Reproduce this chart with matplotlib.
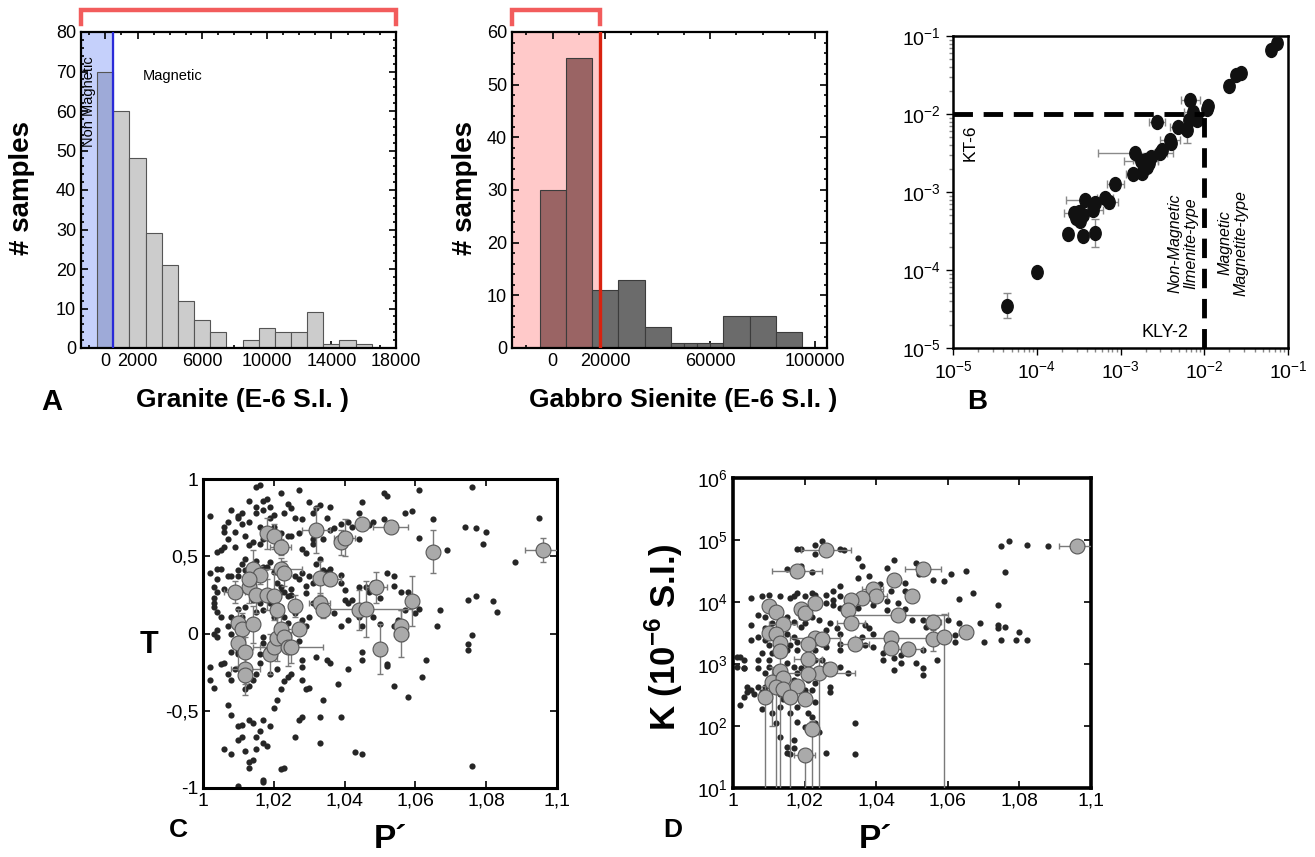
import numpy as np
import matplotlib
matplotlib.use('Agg')
import matplotlib.pyplot as plt
from matplotlib.ticker import MultipleLocator, FixedLocator, LogLocator, NullFormatter
from matplotlib.path import Path
from matplotlib.transforms import Affine2D

plt.rcParams['font.family'] = ['Liberation Sans', 'DejaVu Sans']
plt.rcParams['mathtext.fontset'] = 'custom'
plt.rcParams['mathtext.rm'] = 'Liberation Sans'
plt.rcParams['mathtext.bf'] = 'Liberation Sans:bold'

# ---------------- datos ----------------
# Histograma granito (centros de clase, ancho 1000)
granite_centers = list(range(0, 17000, 1000))
granite_counts = [70, 60, 48, 29, 21, 12, 7, 4, 0, 2, 5, 4, 4, 9, 1, 2, 1]
granite_limit = 500          # limite no magnetico
granite_range = (-1500, 18000)

# Histograma gabro-sienita (bordes de clase)
gabbro_edges = [-5000, 5000, 15000, 25000, 35000, 45000, 50000, 55000, 60000,
                65000, 75000, 85000, 95000]
gabbro_counts = [30, 55, 11, 13, 4, 1, 1, 1, 1, 6, 6, 3]
gabbro_limit = 18000
gabbro_range = (-15500, 18000)

# Panel B: KLY-2 vs KT-6
b_x = [4.4e-5, 1.0e-4, 2.34e-4, 3.55e-4, 4.9e-4, 2.75e-4, 3.3e-4, 2.95e-4, 3.2e-4,
       3.8e-4, 3.55e-4, 4.7e-4, 5.0e-4, 6.5e-4, 7.2e-4, 8.7e-4, 1.41e-3, 1.51e-3,
       1.82e-3, 2.0e-3, 2.19e-3, 1.9e-3, 2.3e-3, 2.1e-3, 1.74e-3, 2.75e-3, 3.0e-3,
       3.1e-3, 3.9e-3, 4.0e-3, 4.9e-3, 6.2e-3, 6.5e-3, 6.8e-3, 7.4e-3, 7.6e-3,
       8.1e-3, 1.07e-2, 1.12e-2, 2.0e-2, 2.4e-2, 2.75e-2, 6.3e-2, 7.4e-2]
b_y = [3.5e-5, 9.3e-5, 2.9e-4, 2.7e-4, 3.0e-4, 5.4e-4, 4.2e-4, 4.6e-4, 5.6e-4,
       7.9e-4, 5.0e-4, 5.9e-4, 7.2e-4, 8.5e-4, 7.4e-4, 1.26e-3, 1.7e-3, 3.16e-3,
       1.74e-3, 2.57e-3, 2.34e-3, 2.24e-3, 2.8e-3, 2.1e-3, 2.5e-3, 7.8e-3, 3.16e-3,
       3.5e-3, 4.7e-3, 4.2e-3, 6.9e-3, 6.3e-3, 8.3e-3, 1.51e-2, 1.05e-2, 9.3e-3,
       8.5e-3, 1.17e-2, 1.26e-2, 2.3e-2, 3.16e-2, 3.4e-2, 6.6e-2, 8.1e-2]
# factores de error (1 = sin barra)
b_xf = [1, 1, 1.15, 1, 1, 1.3, 1, 1, 1, 1.7, 1, 1.3, 1, 1.25, 1.3, 1.25, 1.2, 2.8,
        1, 1.4, 1, 1, 1, 1, 1.6, 1.25, 1.2, 1, 1.3, 1, 1.25, 1, 1, 1.3, 1.3, 1,
        1, 1.1, 1, 1, 1, 1, 1, 1]
b_yf = [1.45, 1, 1, 1, 1.5, 1, 1, 1, 1, 1, 1, 1, 1, 1, 1.2, 1, 1, 1, 1, 1, 1, 1, 1,
        1, 1, 1, 1, 1, 1, 1, 1, 1.5, 1, 1, 1, 1, 1, 1, 1, 1, 1, 1, 1, 1]
b_limit = 1e-2

# Panel C: T vs P' (especimenes)
c_dot_p = [1.002, 1.015, 1.016, 1.013, 1.011, 1.008, 1.010, 1.006, 1.007, 1.007, 1.009,
           1.013, 1.015, 1.015, 1.016, 1.017, 1.017, 1.018, 1.019, 1.019, 1.020, 1.022,
           1.023, 1.024, 1.025, 1.026, 1.027, 1.028, 1.030, 1.031, 1.032, 1.033, 1.035,
           1.036, 1.036, 1.037, 1.038, 1.039, 1.041, 1.042, 1.044, 1.045, 1.044, 1.047,
           1.048, 1.051, 1.052, 1.051, 1.054, 1.057, 1.059, 1.061, 1.061, 1.065, 1.069,
           1.076, 1.074, 1.077, 1.080, 1.079, 1.095, 1.088, 1.034, 1.033, 1.031, 1.031,
           1.027, 1.028, 1.029, 1.025, 1.024, 1.022, 1.020, 1.017, 1.016, 1.014, 1.013,
           1.012, 1.011, 1.010, 1.009, 1.006, 1.005, 1.004, 1.006,
           1.002, 1.004, 1.005, 1.004, 1.003, 1.004, 1.003, 1.003, 1.003, 1.004, 1.005,
           1.006, 1.007, 1.008, 1.010, 1.010, 1.011, 1.012, 1.012, 1.013, 1.014, 1.015,
           1.015, 1.016, 1.017, 1.018, 1.019, 1.020, 1.021, 1.022, 1.022, 1.023, 1.024,
           1.025, 1.025, 1.026, 1.027, 1.028, 1.029, 1.029, 1.030, 1.031, 1.032, 1.033,
           1.034, 1.035, 1.036, 1.039, 1.039, 1.040, 1.040, 1.041, 1.042, 1.044, 1.046,
           1.047, 1.048, 1.049, 1.050, 1.050, 1.052, 1.054, 1.054, 1.056, 1.057, 1.058,
           1.060, 1.061, 1.066, 1.067, 1.075, 1.077, 1.082, 1.083, 1.076, 1.075, 1.075,
           1.008, 1.004, 1.003, 1.007, 1.008, 1.010, 1.011, 1.012, 1.014, 1.015, 1.016,
           1.017, 1.019, 1.020, 1.022, 1.023, 1.024, 1.026, 1.027, 1.028, 1.029, 1.030,
           1.031, 1.033, 1.037, 1.039, 1.041, 1.044, 1.045, 1.048, 1.050, 1.054, 1.055,
           1.002, 1.002, 1.003, 1.004, 1.005, 1.006, 1.007, 1.008, 1.008, 1.009, 1.010,
           1.010, 1.011, 1.012, 1.012, 1.013, 1.014, 1.015, 1.016, 1.016, 1.017, 1.017,
           1.018, 1.019, 1.019, 1.021, 1.022, 1.023, 1.024, 1.025, 1.025, 1.027, 1.028,
           1.028, 1.028, 1.029, 1.030, 1.032, 1.034, 1.035, 1.036, 1.038, 1.039, 1.041,
           1.045, 1.045, 1.052, 1.052, 1.054, 1.058, 1.076, 1.062, 1.063, 1.026, 1.027,
           1.028, 1.007, 1.008, 1.010, 1.011, 1.013, 1.014, 1.010, 1.011, 1.012, 1.013,
           1.013, 1.014, 1.015, 1.015, 1.016, 1.017, 1.017, 1.018, 1.019, 1.020, 1.021,
           1.022, 1.023, 1.017, 1.017, 1.010, 1.033, 1.033, 1.043, 1.045, 1.006, 1.008]
c_dot_t = [0.76, 0.95, 0.96, 0.86, 0.78, 0.80, 0.75, 0.66, 0.72, 0.61, 0.56,
           0.72, 0.78, 0.82, 0.69, 0.86, 0.80, 0.87, 0.82, 0.75, 0.77, 0.91,
           0.78, 0.84, 0.81, 0.75, 0.93, 0.74, 0.85, 0.78, 0.81, 0.83, 0.75,
           0.82, 0.67, 0.68, 0.59, 0.71, 0.72, 0.69, 0.61, 0.85, 0.78, 0.70,
           0.72, 0.91, 0.89, 0.74, 0.71, 0.78, 0.79, 0.93, 0.62, 0.74, 0.54,
           0.95, 0.69, 0.68, 0.66, 0.58, 0.75, 0.46, 0.61, 0.68, 0.61, 0.58,
           0.65, 0.55, 0.52, 0.63, 0.63, 0.65, 0.69, 0.61, 0.58, 0.59, 0.57,
           0.63, 0.71, 0.76, 0.66, 0.69, 0.54, 0.53, 0.56,
           0.39, 0.42, 0.42, 0.35, 0.30, 0.27, 0.23, 0.20, 0.17, 0.14, 0.11,
           0.29, 0.37, 0.37, 0.37, 0.41, 0.45, 0.48, 0.41, 0.38, 0.45, 0.41,
           0.47, 0.37, 0.43, 0.43, 0.46, 0.40, 0.33, 0.30, 0.27, 0.27, 0.24,
           0.25, 0.29, 0.37, 0.35, 0.39, 0.31, 0.26, 0.37, 0.33, 0.45, 0.48,
           0.41, 0.40, 0.42, 0.38, 0.33, 0.22, 0.28, 0.20, 0.22, 0.30, 0.30,
           0.27, 0.33, 0.27, 0.30, 0.23, 0.39, 0.37, 0.31, 0.27, 0.15, 0.27,
           0.13, 0.16, 0.05, 0.15, 0.22, 0.24, 0.21, 0.14, -0.01, -0.07, -0.11,
           0.00, 0.02, 0.00, 0.05, 0.11, 0.16, 0.11, 0.17, 0.22, 0.14, 0.20,
           0.15, 0.20, 0.11, 0.17, 0.11, 0.07, 0.13, 0.17, 0.09, 0.05, 0.11,
           0.20, 0.20, 0.13, 0.05, 0.09, 0.11, 0.05, 0.11, 0.06, 0.05, 0.09,
           -0.22, -0.30, -0.35, -0.02, -0.20, -0.19, -0.26, -0.30, -0.12, -0.23, -0.13,
           -0.12, -0.26, -0.30, -0.36, -0.34, -0.30, -0.26, -0.19, -0.13, -0.06, -0.02,
           -0.11, -0.15, -0.26, -0.23, -0.36, -0.31, -0.28, -0.11, -0.26, -0.05, -0.17,
           -0.22, -0.30, -0.36, -0.35, -0.15, -0.43, -0.17, -0.19, -0.33, -0.54, -0.23,
           -0.17, -0.12, -0.21, -0.20, -0.34, -0.41, -0.86, -0.28, -0.17, -0.67, -0.56,
           -0.54, -0.46, -0.53, -0.60, -0.59, -0.56, -0.58, -0.69, -0.67, -0.76, -0.83,
           -0.87, -0.82, -0.75, -0.67, -0.63, -0.56, -0.71, -0.73, -0.60, -0.48, -0.43,
           -0.88, -0.87, -0.95, -0.96, -0.99, -0.54, -0.71, -0.77, -0.78, -0.75, -0.78]

# Panel C: medias por sitio
c_site_p = [1.018, 1.020, 1.022, 1.014, 1.013, 1.016, 1.013, 1.022, 1.023, 1.009,
            1.010, 1.011, 1.014, 1.015, 1.018, 1.020, 1.021, 1.026, 1.027, 1.010,
            1.012, 1.012, 1.012, 1.019, 1.020, 1.021, 1.022, 1.023, 1.024, 1.025,
            1.032, 1.033, 1.033, 1.034, 1.036, 1.039, 1.040, 1.045, 1.053, 1.049,
            1.044, 1.046, 1.050, 1.056, 1.056, 1.059, 1.065, 1.096]
c_site_t = [0.65, 0.63, 0.56, 0.42, 0.30, 0.38, 0.35, 0.42, 0.39, 0.27,
            0.07, 0.03, 0.06, 0.25, 0.25, 0.24, 0.15, 0.18, 0.03, -0.06,
            -0.12, -0.23, -0.27, -0.13, -0.09, -0.03, 0.03, -0.02, -0.09, -0.09,
            0.67, 0.36, 0.20, 0.15, 0.35, 0.59, 0.62, 0.71, 0.69, 0.30,
            0.15, 0.16, -0.10, 0.05, 0.00, 0.21, 0.53, 0.54]
c_site_perr = [0, 0, 0.003, 0, 0, 0, 0, 0.006, 0, 0.003,
               0, 0, 0, 0, 0.004, 0, 0, 0, 0, 0,
               0, 0.004, 0, 0, 0.004, 0, 0, 0, 0.010, 0,
               0.004, 0, 0.003, 0, 0.003, 0, 0.003, 0, 0.005, 0.003,
               0, 0.013, 0, 0, 0.002, 0, 0, 0.005]
c_site_terr = [0.10, 0.08, 0.05, 0.12, 0.10, 0.06, 0, 0.07, 0.08, 0.07,
               0.09, 0.10, 0.12, 0.12, 0.10, 0.15, 0.10, 0.07, 0, 0.15,
               0.10, 0.10, 0.13, 0.13, 0, 0.15, 0.10, 0.07, 0.12, 0.10,
               0.15, 0.11, 0.06, 0.05, 0, 0.08, 0.12, 0.04, 0, 0.10,
               0.13, 0.18, 0.16, 0.10, 0.15, 0.16, 0.14, 0.08]

# Panel D: K vs P' (especimenes)
d_dot_p = [1.025, 1.023, 1.018, 1.019, 1.023, 1.030, 1.031, 1.027, 1.015, 1.019, 1.022,
           1.035, 1.036, 1.045, 1.051, 1.052, 1.075, 1.077, 1.082, 1.088, 1.076, 1.065,
           1.061, 1.059, 1.056, 1.043, 1.041, 1.035, 1.038, 1.048, 1.048, 1.044, 1.067,
           1.063, 1.030, 1.028,
           1.005, 1.008, 1.010, 1.013, 1.016, 1.017, 1.018, 1.020, 1.022, 1.023, 1.026,
           1.028, 1.030, 1.026, 1.028, 1.030, 1.032, 1.035, 1.037, 1.039, 1.043, 1.043,
           1.046, 1.048, 1.050, 1.053, 1.054, 1.060, 1.063, 1.069, 1.074, 1.074, 1.076,
           1.074, 1.080, 1.075, 1.082, 1.079, 1.070, 1.062, 1.062, 1.057, 1.053, 1.053,
           1.053, 1.051, 1.047, 1.047, 1.045, 1.045, 1.042, 1.042, 1.039, 1.037, 1.039,
           1.038, 1.037, 1.036, 1.030, 1.030, 1.030, 1.029, 1.027, 1.026, 1.024, 1.022,
           1.020, 1.019, 1.017, 1.015, 1.013, 1.011, 1.009, 1.007, 1.005, 1.005, 1.007,
           1.009, 1.009, 1.015, 1.017, 1.018, 1.019, 1.025, 1.026, 1.023, 1.018, 1.015,
           1.016, 1.010, 1.008, 1.011, 1.010,
           1.002, 1.003, 1.003, 1.007, 1.007, 1.009, 1.010, 1.015, 1.017, 1.018, 1.019,
           1.020, 1.023, 1.025, 1.026, 1.030, 1.032, 1.027, 1.027, 1.023, 1.022, 1.021,
           1.020, 1.017, 1.016, 1.014, 1.013, 1.011, 1.009, 1.008, 1.007, 1.005, 1.004,
           1.004, 1.006, 1.003, 1.002, 1.001, 1.001, 1.003, 1.008, 1.011, 1.013, 1.016,
           1.018, 1.021, 1.023, 1.013, 1.015, 1.015, 1.017, 1.017, 1.016, 1.024, 1.026,
           1.034, 1.034, 1.022, 1.023, 1.018, 1.020, 1.012]
d_dot_k = [98000, 83000, 71000, 71000, 60000, 71000, 69000, 69000, 34000, 38000, 30000,
           51000, 38000, 47000, 42000, 28000, 79000, 98000, 83000, 79000, 30000, 32000,
           28000, 22000, 23000, 35000, 19500, 24000, 26000, 20000, 15000, 15000, 14000,
           11000, 18000, 15000,
           11500, 12300, 12900, 12600, 11500, 12600, 13800, 12300, 13800, 12900, 12900,
           10700, 12300, 9500, 8900, 7900, 8500, 7900, 10700, 8900, 10200, 7400,
           9500, 7600, 5100, 5100, 4000, 5100, 4600, 4600, 8900, 4300, 4000,
           3800, 3300, 2450, 2450, 2450, 2300, 2950, 2300, 1150, 1700, 850,
           660, 1020, 1380, 1020, 790, 1230, 1150, 1480, 1900, 2040, 3100,
           3800, 4300, 2750, 3100, 2140, 1700, 3800, 4600, 3550, 5100, 5750,
           4600, 5750, 4800, 5750, 5500, 4600, 5750, 6200, 4300, 2450, 2750,
           2450, 3800, 3100, 2750, 2300, 4000, 2140, 1900, 1700, 1700, 1700,
           2040, 2040, 1480, 1480, 1150,
           1320, 1150, 850, 1150, 850, 710, 910, 1020, 910, 710, 850,
           1020, 1150, 1150, 950, 910, 710, 430, 350, 490, 380, 550,
           380, 550, 330, 275, 330, 380, 430, 350, 430, 380, 430,
           350, 330, 295, 220, 910, 1290, 870, 190, 160, 200, 160,
           200, 160, 245, 66, 46, 37, 45, 59, 35, 79, 37,
           110, 35, 141, 110, 117, 98, 110]

# Panel D: medias por sitio
d_site_p = [1.026, 1.018, 1.053, 1.096, 1.045, 1.039, 1.040, 1.050, 1.036, 1.033,
            1.010, 1.012, 1.019, 1.020, 1.023, 1.032, 1.046, 1.056, 1.014, 1.033,
            1.010, 1.012, 1.013, 1.023, 1.025, 1.021, 1.034, 1.044, 1.044, 1.049,
            1.056, 1.059, 1.065, 1.013, 1.021, 1.013, 1.024, 1.021, 1.027, 1.011,
            1.014, 1.012, 1.014, 1.018, 1.009, 1.016, 1.020, 1.022, 1.020]
d_site_k = [68000, 32000, 34000, 81000, 23000, 16000, 12600, 12600, 11500, 10700,
            8500, 6900, 7600, 6600, 9500, 7400, 6200, 4800, 4400, 4600,
            3200, 3000, 2200, 2600, 2500, 2100, 2100, 2600, 1800, 1750,
            2500, 2750, 3300, 1600, 1200, 780, 720, 700, 830, 510,
            590, 420, 390, 450, 295, 290, 270, 91, 34]
d_site_perr = [0.007, 0.007, 0.005, 0.005, 0.001, 0.003, 0.003, 0, 0, 0,
               0, 0, 0, 0, 0, 0, 0.014, 0.002, 0.004, 0.004,
               0, 0, 0, 0.007, 0, 0, 0.004, 0.010, 0, 0.004,
               0, 0, 0, 0, 0.004, 0, 0.010, 0, 0, 0,
               0, 0, 0, 0, 0, 0, 0, 0.002, 0.003]
d_site_klo = [0, 0, 0, 0, 0, 0, 0, 0, 0, 0,
              0, 0, 0, 0, 0, 0, 0, 0, 0, 0,
              0, 0, 0, 0, 0, 0, 0, 0, 0, 0,
              1600, 1, 0, 0, 0, 1, 1, 0, 0, 100,
              0, 1, 0, 0, 1, 1, 0, 1, 1]
d_site_khi = [0, 0, 0, 0, 0, 0, 0, 0, 0, 0,
              0, 0, 0, 0, 0, 0, 0, 0, 0, 0,
              0, 0, 0, 0, 0, 0, 0, 0, 0, 0,
              3600, 6500, 0, 0, 0, 1300, 1200, 0, 0, 900,
              0, 700, 0, 0, 450, 400, 0, 120, 42]

# ---------------- figura ----------------
fig = plt.figure(figsize=(13.15, 8.57), dpi=100)
W, H = 1315, 857


def box(left, top, right, bottom):
    return [left / W, 1 - bottom / H, (right - left) / W, (bottom - top) / H]


def ftext(x, y, s, **kw):
    fig.text(x / W, 1 - y / H, s, ha='center', va='center', **kw)


def style_ticks(ax, size=11.5, width=1.2):
    ax.tick_params(which='both', direction='in', top=True, right=True,
                   labelsize=size, width=width, colors='black')
    ax.tick_params(which='major', length=5)
    ax.tick_params(which='minor', length=2.5)


def bracket(ax, x0, x1, color='#f25c5c'):
    tr = ax.get_xaxis_transform()
    ax.plot([x0, x0, x1, x1], [1.025, 1.07, 1.07, 1.025], color=color, lw=3.2,
            transform=tr, clip_on=False, solid_joinstyle='miter')


# ---- A: granito ----
axA = fig.add_axes(box(81, 32, 396, 348))
axA.axvspan(granite_range[0], granite_limit, color='#c5d0fb', zorder=0)
colsA = ['#9eaad8' if c < granite_limit else '#cccccc' for c in granite_centers]
axA.bar(granite_centers, granite_counts, width=1000, color=colsA,
        edgecolor='#555555', linewidth=0.8, zorder=2)
axA.axvline(granite_limit, color='#2a2ad8', lw=1.6, zorder=3)
axA.set_xlim(*granite_range)
axA.set_ylim(0, 80)
axA.set_xticks([0, 2000, 6000, 10000, 14000, 18000])
axA.xaxis.set_minor_locator(MultipleLocator(1000))
axA.yaxis.set_major_locator(MultipleLocator(10))
axA.yaxis.set_minor_locator(MultipleLocator(2))
style_ticks(axA, size=13)
for s in axA.spines.values():
    s.set_linewidth(1.6)
axA.text(0.025, 0.78, 'Non Magnetic', rotation=90, transform=axA.transAxes,
         ha='center', va='center', fontsize=10.5)
axA.text(0.292, 0.861, 'Magnetic', transform=axA.transAxes,
         ha='center', va='center', fontsize=10.5)
bracket(axA, *granite_range)

# ---- gabro sienita ----
axG = fig.add_axes(box(512, 32, 827, 348))
axG.axvspan(-15500, gabbro_limit, color='#ffc9c9', zorder=0)
g_left = gabbro_edges[:-1]
g_width = np.diff(gabbro_edges)
g_mid = [l + w / 2 for l, w in zip(g_left, g_width)]
colsG = ['#9a6464' if m < gabbro_limit else '#6b6b6b' for m in g_mid]
axG.bar(g_left, gabbro_counts, width=g_width, align='edge', color=colsG,
        edgecolor='#3c3c3c', linewidth=0.8, zorder=2)
axG.axvline(gabbro_limit, color='#d8220f', lw=2.4, zorder=3)
axG.set_xlim(-15500, 104500)
axG.set_ylim(0, 60)
axG.set_xticks([0, 20000, 60000, 100000])
axG.xaxis.set_minor_locator(MultipleLocator(10000))
axG.yaxis.set_major_locator(MultipleLocator(10))
axG.yaxis.set_minor_locator(MultipleLocator(2))
style_ticks(axG, size=13)
for s in axG.spines.values():
    s.set_linewidth(1.6)
bracket(axG, *gabbro_range)

ftext(22, 188, '# samples', rotation=90, fontsize=20, fontweight='bold')
ftext(465, 188, '# samples', rotation=90, fontsize=20, fontweight='bold')
ftext(242, 400, 'Granite (E-6 S.I. )', fontsize=19, fontweight='bold')
ftext(683, 400, 'Gabbro Sienite (E-6 S.I. )', fontsize=19, fontweight='bold')
ftext(52, 402, 'A', fontsize=21, fontweight='bold')

# ---- B: KLY-2 vs KT-6 ----
ellipse = Path.unit_circle().transformed(Affine2D().scale(0.82, 1.0))
axB = fig.add_axes(box(953, 36, 1288, 348))
axB.set_xscale('log')
axB.set_yscale('log')
bx = np.array(b_x)
by = np.array(b_y)
bxf = np.array(b_xf)
byf = np.array(b_yf)
axB.errorbar(bx, by, xerr=[bx - bx / bxf, bx * bxf - bx],
             yerr=[by - by / byf, by * byf - by], fmt='none',
             ecolor='#8a8a8a', elinewidth=1, capsize=3, zorder=2)
axB.plot(bx, by, linestyle='none', marker=ellipse, color='#111111', ms=10, zorder=3)
axB.plot([1e-5, b_limit], [b_limit, b_limit], color='black', lw=3.5,
         dashes=(4, 2.2), zorder=4)
axB.plot([b_limit, b_limit], [1e-5, b_limit], color='black', lw=3.5,
         dashes=(4, 2.2), zorder=4)
axB.set_xlim(1e-5, 1e-1)
axB.set_ylim(1e-5, 1e-1)
axB.xaxis.set_major_locator(LogLocator(base=10, numticks=10))
axB.yaxis.set_major_locator(LogLocator(base=10, numticks=10))
axB.xaxis.set_minor_locator(LogLocator(base=10, subs=np.arange(2, 10), numticks=20))
axB.yaxis.set_minor_locator(LogLocator(base=10, subs=np.arange(2, 10), numticks=20))
axB.xaxis.set_minor_formatter(NullFormatter())
axB.yaxis.set_minor_formatter(NullFormatter())
axB.tick_params(which='both', direction='out', top=False, right=False,
                labelsize=14, width=1.0)
axB.tick_params(which='major', length=5)
axB.tick_params(which='minor', length=3, color='#888888')
for s in axB.spines.values():
    s.set_linewidth(1.8)
axB.text(0.051, 0.657, 'KT-6', rotation=90, transform=axB.transAxes,
         ha='center', va='center', fontsize=12.5)
axB.text(0.633, 0.05, 'KLY-2', transform=axB.transAxes,
         ha='center', va='center', fontsize=13)
axB.text(0.687, 0.337, 'Non-Magnetic\nIlmenite-type', rotation=90,
         transform=axB.transAxes, ha='center', va='center', fontsize=11.5,
         style='italic', linespacing=1.1)
axB.text(0.836, 0.337, 'Magnetic\nMagnetite-type', rotation=90,
         transform=axB.transAxes, ha='center', va='center', fontsize=11.5,
         style='italic', linespacing=1.1)
ftext(977, 402, 'B', fontsize=20, fontweight='bold')

# ---- C: T vs P' ----
p_ticks = [1, 1.02, 1.04, 1.06, 1.08, 1.1]
p_labels = ['1', '1,02', '1,04', '1,06', '1,08', '1,1']

axC = fig.add_axes(box(203, 479, 557, 788))
axC.scatter(c_dot_p, c_dot_t, s=20, color='#262626', linewidths=0, zorder=2)
axC.errorbar(c_site_p, c_site_t, xerr=c_site_perr, yerr=c_site_terr, fmt='none',
             ecolor='#7a7a7a', elinewidth=1, capsize=2.5, zorder=3)
axC.scatter(c_site_p, c_site_t, s=115, color='#aaaaaa', edgecolors='#555555',
            linewidths=0.8, zorder=4)
axC.set_xlim(1, 1.1)
axC.set_ylim(-1, 1)
axC.xaxis.set_major_locator(FixedLocator(p_ticks))
axC.set_xticklabels(p_labels)
axC.yaxis.set_major_locator(FixedLocator([-1, -0.5, 0, 0.5, 1]))
axC.set_yticklabels(['-1', '-0,5', '0', '0,5', '1'])
style_ticks(axC, size=14)
for s in axC.spines.values():
    s.set_linewidth(2.2)
ftext(149, 645, 'T', fontsize=22, fontweight='bold')
ftext(178, 830, 'C', fontsize=19, fontweight='bold')
ftext(390, 840, 'P´', fontsize=24, fontweight='bold')

# ---- D: K vs P' ----
axD = fig.add_axes(box(733, 478, 1091, 788))
axD.set_yscale('log')
axD.scatter(d_dot_p, d_dot_k, s=20, color='#262626', linewidths=0, zorder=2)
dk = np.array(d_site_k, dtype=float)
klo = np.array(d_site_klo, dtype=float)
khi = np.array(d_site_khi, dtype=float)
err_lo = np.where(klo > 0, dk - klo, 0)
err_hi = np.where(khi > 0, khi - dk, 0)
axD.errorbar(d_site_p, dk, xerr=d_site_perr, yerr=[err_lo, err_hi], fmt='none',
             ecolor='#7a7a7a', elinewidth=1, capsize=2.5, zorder=3)
axD.scatter(d_site_p, dk, s=115, color='#aaaaaa', edgecolors='#555555',
            linewidths=0.8, zorder=4)
axD.set_xlim(1, 1.1)
axD.set_ylim(10, 1e6)
axD.xaxis.set_major_locator(FixedLocator(p_ticks))
axD.set_xticklabels(p_labels)
axD.yaxis.set_major_locator(LogLocator(base=10, numticks=10))
axD.yaxis.set_minor_locator(FixedLocator([]))
style_ticks(axD, size=14)
for s in axD.spines.values():
    s.set_linewidth(2.6)
ftext(664, 637, 'K (10$^{\\mathbf{-6}}$ S.I.)', rotation=90, fontsize=25,
      fontweight='bold')
ftext(673, 830, 'D', fontsize=19, fontweight='bold')
ftext(875, 840, 'P´', fontsize=24, fontweight='bold')

fig.savefig('out.png', dpi=100)
